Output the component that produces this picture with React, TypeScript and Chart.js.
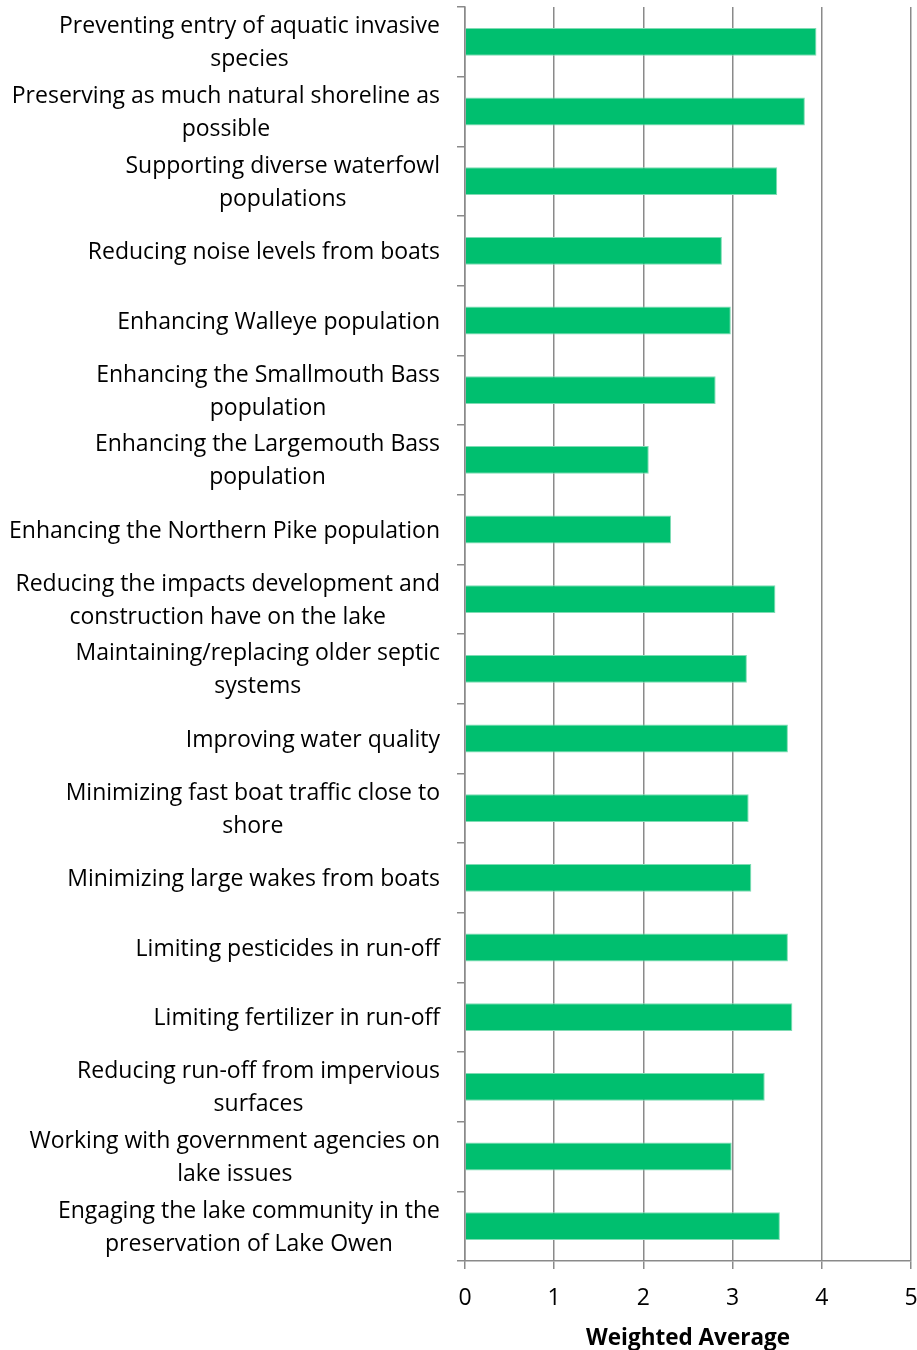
import React, { useEffect, useRef } from "react";
import { Chart, registerables } from "chart.js";

Chart.register(...registerables);

const categories: string[][] = [
  ["Preventing entry of aquatic invasive", "species"],
  ["Preserving as much natural shoreline as", "possible"],
  ["Supporting diverse waterfowl", "populations"],
  ["Reducing noise levels from boats"],
  ["Enhancing Walleye population"],
  ["Enhancing the Smallmouth Bass", "population"],
  ["Enhancing the Largemouth Bass", "population"],
  ["Enhancing the Northern Pike population"],
  ["Reducing the impacts development and", "construction have on the lake"],
  ["Maintaining/replacing older septic", "systems"],
  ["Improving water quality"],
  ["Minimizing fast boat traffic close to", "shore"],
  ["Minimizing large wakes from boats"],
  ["Limiting pesticides in run-off"],
  ["Limiting fertilizer in run-off"],
  ["Reducing run-off from impervious", "surfaces"],
  ["Working with government agencies on", "lake issues"],
  ["Engaging the lake community in the", "preservation of Lake Owen"],
];

const weightedAverage: number[] = [
  3.94, 3.81, 3.5, 2.88, 2.98, 2.81, 2.06, 2.31, 3.48, 3.16, 3.62, 3.18,
  3.21, 3.62, 3.67, 3.36, 2.99, 3.53,
];

const xTicks: number[] = [0, 1, 2, 3, 4, 5];
const xTitle = "Weighted Average";

const FONT = "'Open Sans', Lato, sans-serif";
const GRID = "#8a8a8a";

const labelPlugin = {
  id: "wrappedLabels",
  afterDraw(chart: any) {
    const ctx = chart.ctx;
    const yScale = chart.scales.y;
    const labels = chart.data.labels as string[][];
    const rightEdge = chart.chartArea.left - 25;
    const lineH = 33;
    ctx.save();
    ctx.font = `23px ${FONT}`;
    ctx.fillStyle = "#000";
    ctx.textAlign = "center";
    ctx.textBaseline = "middle";
    labels.forEach((lines, i) => {
      const yc = yScale.getPixelForValue(i) + 1.5;
      const w = Math.max(...lines.map((l) => ctx.measureText(l).width));
      const xc = rightEdge - w / 2;
      const start = yc - ((lines.length - 1) * lineH) / 2;
      lines.forEach((l, j) => ctx.fillText(l, xc, start + j * lineH));
    });
    ctx.restore();
  },
};

export default function App() {
  const ref = useRef<HTMLCanvasElement | null>(null);
  useEffect(() => {
    document.body.style.margin = "0";
    if (!ref.current) return;
    const chart = new Chart(ref.current, {
      type: "bar",
      data: {
        labels: categories as any,
        datasets: [
          {
            data: weightedAverage,
            backgroundColor: "#00BF6F",
            borderColor: "#7fdcb4",
            borderWidth: 1,
            borderSkipped: "start",
            barPercentage: 0.4,
            categoryPercentage: 1,
          },
        ],
      },
      options: {
        indexAxis: "y",
        animation: false,
        responsive: true,
        maintainAspectRatio: false,
        layout: { padding: { top: 7, right: 6, left: 0, bottom: -2 } },
        plugins: {
          legend: { display: false },
          tooltip: { enabled: false },
        },
        scales: {
          y: {
            type: "category",
            ticks: { display: false },
            grid: {
              drawOnChartArea: false,
              drawTicks: true,
              tickLength: 8,
              color: GRID,
              lineWidth: 1.5,
              offset: true,
            },
            border: { display: true, color: GRID, width: 1.5 },
            afterFit: (s: any) => {
              s.width = 465;
              s.paddingTop = 0;
              s.paddingBottom = 0;
            },
          },
          x: {
            type: "linear",
            min: 0,
            max: 5,
            afterBuildTicks: (s: any) => {
              s.ticks = xTicks.map((v) => ({ value: v }));
            },
            ticks: {
              font: { family: FONT, size: 23 },
              color: "#000",
              padding: 16,
            },
            grid: {
              color: GRID,
              lineWidth: 1.5,
              tickLength: 8,
            },
            border: { display: true, color: GRID, width: 1.5 },
            title: {
              display: true,
              text: xTitle,
              color: "#000",
              font: { family: FONT, size: 22.5, weight: "bold" },
              padding: 0,
            },
            afterFit: (s: any) => {
              s.height = 91;
              s.paddingLeft = 0;
              s.paddingRight = 0;
            },
          },
        },
      },
      plugins: [labelPlugin],
    });
    return () => chart.destroy();
  }, []);
  return (
    <div style={{ width: 917, height: 1350, position: "relative" }}>
      <canvas ref={ref} />
    </div>
  );
}
